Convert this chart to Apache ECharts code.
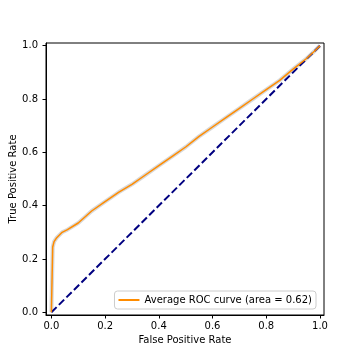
<!DOCTYPE html>
<html>
<head>
<meta charset="utf-8">
<script src="https://cdn.jsdelivr.net/npm/echarts@6/dist/echarts.min.js"></script>
<style>
  html, body { margin: 0; padding: 0; background: #fff; }
  #chart { width: 360px; height: 360px; }
</style>
</head>
<body>
<div id="chart"></div>
<script>
// values
const fpr = [0, 0.004, 0.005, 0.01, 0.02, 0.04, 0.06, 0.1, 0.15, 0.2, 0.25, 0.3, 0.35, 0.4, 0.45, 0.5,
  0.55, 0.6, 0.65, 0.7, 0.75, 0.8, 0.85, 0.9, 0.95, 0.98, 1.0];
const tpr = [0, 0, 0.245, 0.265, 0.28, 0.30, 0.31, 0.335, 0.38, 0.415, 0.45, 0.48, 0.515, 0.55, 0.585, 0.62,
  0.66, 0.695, 0.73, 0.765, 0.80, 0.835, 0.87, 0.912, 0.952, 0.98, 1.0];
const chanceX = [0, 1];
const chanceY = [0, 1];
const tickValues = [0, 0.2, 0.4, 0.6, 0.8, 1.0];
const curveName = "Average ROC curve (area = 0.62)";

const font = "DejaVu Sans";
const pair = (xs, ys) => xs.map((v, i) => [v, ys[i]]);

const axisCommon = {
  type: "value",
  axisLine: { show: true, onZero: false, lineStyle: { color: "#000", width: 1 } },
  axisTick: { show: true, length: 3.5, lineStyle: { color: "#000" }, customValues: tickValues },
  axisLabel: {
    color: "#000", fontFamily: font, fontSize: 10,
    customValues: tickValues,
    formatter: (v) => v.toFixed(1),
  },
  splitLine: { show: false },
  nameLocation: "middle",
  nameMoveOverlap: false,
  nameTextStyle: { color: "#000", fontFamily: font, fontSize: 10 },
};

const chart = echarts.init(document.getElementById("chart"));
chart.setOption({
  animation: false,
  grid: {
    left: 46, right: 36, top: 43, bottom: 45,
    outerBoundsMode: "none", containLabel: false,
    show: true, borderColor: "#000", borderWidth: 1,
  },
  xAxis: Object.assign({}, axisCommon, {
    min: -0.02, max: 1.015, name: "False Positive Rate", nameGap: 20,
    axisLabel: Object.assign({}, axisCommon.axisLabel, { margin: 6 }),
  }),
  yAxis: Object.assign({}, axisCommon, {
    min: -0.01, max: 1.01, name: "True Positive Rate", nameGap: 28,
    axisLabel: Object.assign({}, axisCommon.axisLabel, { margin: 8 }),
  }),
  legend: {
    data: [{ name: curveName, icon: "rect" }],
    right: 44, bottom: 51,
    orient: "vertical",
    itemWidth: 21, itemHeight: 2,
    padding: [4, 4, 4, 4],
    borderColor: "#ccc", borderWidth: 1, borderRadius: 3,
    backgroundColor: "#fff",
    textStyle: { color: "#000", fontFamily: font, fontSize: 10 },
  },
  series: [
    {
      name: "band",
      type: "line",
      data: pair(fpr, tpr),
      showSymbol: false,
      silent: true,
      lineStyle: { color: "rgba(190,190,190,0.6)", width: 4 },
      z: 1,
    },
    {
      name: curveName,
      type: "line",
      data: pair(fpr, tpr),
      showSymbol: false,
      symbol: "none",
      lineStyle: { color: "#ff8c00", width: 1.5 },
      itemStyle: { color: "#ff8c00" },
      z: 3,
    },
    {
      name: "chance",
      type: "line",
      data: pair(chanceX, chanceY),
      showSymbol: false,
      symbol: "none",
      lineStyle: { color: "#000080", width: 2, type: [7.4, 3.2] },
      z: 2,
    },
  ],
});
</script>
</body>
</html>
